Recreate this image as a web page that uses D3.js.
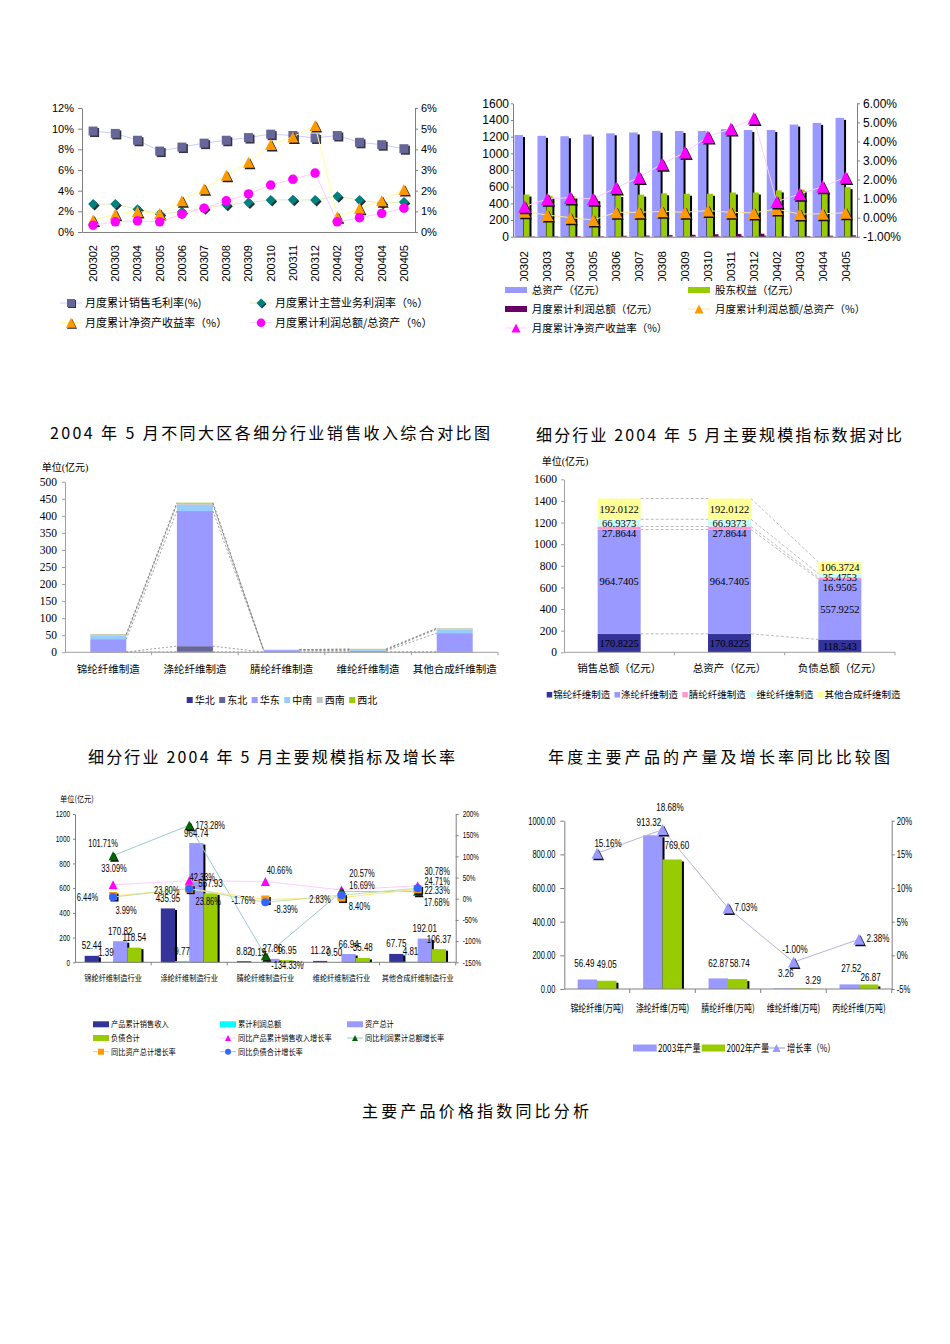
<!DOCTYPE html>
<html><head><meta charset="utf-8">
<script src="https://cdn.jsdelivr.net/npm/d3@7"></script>
<style>
body{margin:0;background:#fff}
svg{display:block}
</style></head><body>
<svg id="c" width="950" height="1344"></svg>
<script>
// ================= DATA =================
const months = ["200302","200303","200304","200305","200306","200307","200308","200309","200310","200311","200312","200402","200403","200404","200405"];
// chart 1
const grossMarginRate   = [9.77,9.54,8.88,7.83,8.22,8.60,8.88,9.14,9.47,9.34,9.10,9.34,8.68,8.45,8.06];
const mainBizProfitRate = [2.70,2.70,2.20,1.75,1.95,2.30,2.63,2.86,3.09,3.12,3.09,3.45,3.09,2.80,2.90];
const roeRate           = [0.58,0.86,0.99,0.90,1.51,2.09,2.75,3.37,4.23,4.60,5.15,0.74,1.15,1.51,2.06];
const profitAssetRatio  = [0.33,0.49,0.54,0.49,0.86,1.15,1.51,1.84,2.27,2.55,2.85,0.49,0.69,0.90,1.15];
const c1LeftTicks  = [0,2,4,6,8,10,12];
const c1RightTicks = [0,1,2,3,4,5,6];
const c1Legend = ["月度累计销售毛利率(%)","月度累计主营业务利润率（%）","月度累计净资产收益率（%）","月度累计利润总额/总资产（%）"];
// chart 2
const totalAssets       = [1220,1210,1205,1225,1240,1250,1270,1268,1268,1290,1280,1280,1345,1365,1425];
const shareholderEquity = [505,490,485,450,500,505,520,515,515,530,530,555,565,545,595];
const cumProfit         = [4,6,7,6,11,14,19,23,29,33,36,6,9,12,16];
const profitAssetPct    = [0.31,0.14,0.00,-0.12,0.28,0.28,0.33,0.28,0.37,0.28,0.25,0.45,0.19,0.20,0.26];
const roePct            = [0.58,0.98,1.05,0.98,1.57,2.12,2.82,3.43,4.25,4.67,5.21,0.84,1.24,1.63,2.12];
const c2LeftTicks  = [0,200,400,600,800,1000,1200,1400,1600];
const c2RightTicks = [-1,0,1,2,3,4,5,6];
const c2Legend = ["总资产（亿元）","股东权益（亿元）","月度累计利润总额（亿元）","月度累计利润总额/总资产（%）","月度累计净资产收益率（%）"];
// chart 3
const c3Industries = ["锦纶纤维制造","涤纶纤维制造","腈纶纤维制造","维纶纤维制造","其他合成纤维制造"];
const c3Regions = ["华北","东北","华东","中南","西南","西北"];
const c3Huabei   = [0.6,1.5,0.4,0.3,0.6];
const c3Dongbei  = [0.5,16.5,0.4,0.3,0.6];
const c3Huadong  = [37.5,396,5.5,4,55];
const c3Zhongnan = [11,18.5,1,2.5,11];
const c3Xinan    = [3.5,5,0.4,1,3];
const c3Xibei    = [0.4,0.8,0.2,2,0.3];
const c3Ticks = [0,50,100,150,200,250,300,350,400,450,500];
// chart 4
const c4Metrics = ["销售总额（亿元）","总资产（亿元）","负债总额（亿元）"];
const c4Industries = ["锦纶纤维制造","涤纶纤维制造","腈纶纤维制造","维纶纤维制造","其他合成纤维制造"];
const c4Jinlun  = [170.8225,170.8225,118.543];
const c4Dilun   = [964.7405,964.7405,557.9252];
const c4Jinglun = [27.8644,27.8644,16.9505];
const c4Weilun  = [66.9373,66.9373,35.4753];
const c4Other   = [192.0122,192.0122,106.3724];
const c4Ticks = [0,200,400,600,800,1000,1200,1400,1600];
// chart 5
const c5Industries = ["锦纶纤维制造行业","涤纶纤维制造行业","腈纶纤维制造行业","维纶纤维制造行业","其他合成纤维制造行业"];
const c5Sales  = [52.44,435.95,8.82,11.23,67.75];
const c5Profit = [1.39,9.77,0.19,0.50,4.81];
const c5Assets = [170.82,964.74,27.86,66.94,192.01];
const c5Debt   = [118.54,557.93,16.95,35.48,106.37];
const c5SalesGrowth  = [33.09,42.33,40.66,20.57,30.78];
const c5ProfitGrowth = [101.71,173.28,-134.33,16.69,17.68];
const c5AssetGrowth  = [6.44,23.80,-1.76,2.83,22.33];
const c5DebtGrowth   = [3.99,23.86,-8.39,8.40,24.71];
const c5LeftTicks  = [0,200,400,600,800,1000,1200];
const c5RightTicks = [-150,-100,-50,0,50,100,150,200];
const c5Legend = ["产品累计销售收入","累计利润总额","资产总计","负债合计","同比产品累计销售收入增长率","同比利润累计总额增长率","同比资产总计增长率","同比负债合计增长率"];
// chart 6
const c6Products = ["锦纶纤维(万吨)","涤纶纤维(万吨)","腈纶纤维(万吨)","维纶纤维(万吨)","丙纶纤维(万吨)"];
const c6Output2003 = [56.49,913.32,62.87,3.26,27.52];
const c6Output2002 = [49.05,769.60,58.74,3.29,26.87];
const c6Growth     = [15.16,18.68,7.03,-1.00,2.38];
const c6LeftTicks  = [0,200,400,600,800,1000];
const c6RightTicks = [-5,0,5,10,15,20];
const c6Legend = ["2003年产量","2002年产量","增长率（%）"];

// ================= LAYOUT (label nudges, not data) =================
const c5SalesLblOff  = [[1,-16],[13,-3],[14,-11.5],[20.5,-16.7],[19.5,-14.7]];
const c5ProfitLblOff = [[-10,-12.6],[21,0],[22,10],[20.5,-6.6],[19,11.5]];
const c5AssetLblOff  = [[-25.6,1],[-22.5,1.4],[-22,0.6],[-21.5,1.5],[19.5,1]];
const c5DebtLblOff   = [[13,13.7],[19,13],[20.5,7.7],[18,11.6],[19.5,-6.5]];
const c6Lbl03Off = [[-3,-16.5],[-4,-13],[0,-15.7],[2,-15.8],[2,-16]];
const c6Lbl02Off = [[0,-17],[4.6,-14.5],[2,-16.4],[10,-8.5],[2,-8]];
const c6GrowthLblOff = [[11,-10],[7.5,-23],[18,-1],[1.5,-13],[19,-1]];

// ================= HELPERS =================
const SANS = "'Liberation Sans','Noto Sans CJK SC',sans-serif";
const SERIF = "'Liberation Serif','Noto Sans CJK SC',serif";
const CJK = "'Noto Sans CJK SC',sans-serif";
const svg = d3.select("#c");
const f2 = d => Number(d).toFixed(2);

function narrow(sel, f) {
  sel.each(function () {
    const L = this.getComputedTextLength();
    if (L > 0) d3.select(this).attr("textLength", L * f).attr("lengthAdjust", "spacingAndGlyphs");
  });
}
function styleAxis(sel, font, size, color) {
  sel.attr("font-family", font).attr("font-size", size);
  sel.select(".domain").attr("stroke", color || "#808080");
  sel.selectAll(".tick line").attr("stroke", color || "#808080");
  sel.selectAll(".tick text").attr("fill", "#000");
}
function markerPath(type, s) {
  const h = s / 2;
  if (type === "square") return `M${-h},${-h}H${h}V${h}H${-h}Z`;
  if (type === "diamond") return `M0,${-h}L${h},0L0,${h}L${-h},0Z`;
  if (type === "triangle") return `M0,${-h}L${h},${h}L${-h},${h}Z`;
  return d3.symbol(d3.symbolCircle, Math.PI * h * h)();
}
function drawMarkers(g, vals, xf, yf, type, size, fill, shadow) {
  if (shadow) {
    g.append("g").selectAll("path").data(vals).join("path")
      .attr("d", markerPath(type, size))
      .attr("transform", (d, i) => `translate(${xf(i) + 1.5},${yf(d) + 1.5})`)
      .attr("fill", shadow);
  }
  g.append("g").selectAll("path").data(vals).join("path")
    .attr("d", markerPath(type, size))
    .attr("transform", (d, i) => `translate(${xf(i)},${yf(d)})`)
    .attr("fill", fill);
}
function drawLine(g, vals, xf, yf, color, w) {
  g.append("path").datum(vals)
    .attr("d", d3.line().x((d, i) => xf(i)).y(d => yf(d)))
    .attr("fill", "none").attr("stroke", color).attr("stroke-width", w || 1);
}
function title(txt, x0, x1, yb, size) {
  svg.append("text").attr("x", x0).attr("y", yb)
    .attr("textLength", x1 - x0).attr("lengthAdjust", "spacing")
    .attr("font-family", CJK).attr("font-size", size || 16).attr("fill", "#000")
    .text(txt);
}
function legendMarkerLine(g, x, y, w, color, type, size, fill, shadow) {
  g.append("line").attr("x1", x).attr("x2", x + w).attr("y1", y).attr("y2", y).attr("stroke", color).attr("stroke-width", 1);
  if (shadow) g.append("path").attr("d", markerPath(type, size)).attr("transform", `translate(${x + w / 2 + 1},${y + 1})`).attr("fill", shadow);
  g.append("path").attr("d", markerPath(type, size)).attr("transform", `translate(${x + w / 2},${y})`).attr("fill", fill);
}
function legText(g, x, y, txt, size, font) {
  return g.append("text").attr("x", x).attr("y", y).attr("dy", "0.35em")
    .attr("font-family", font || CJK).attr("font-size", size).attr("fill", "#000").text(txt);
}

// ================= CHART 1 =================
{
  const X0 = 82, X1 = 415, YT = 108, YB = 232;
  const g = svg.append("g");
  const x = d3.scaleBand().domain(months).range([X0, X1]);
  const cx = i => x(months[i]) + x.bandwidth() / 2;
  const yL = d3.scaleLinear().domain([0, 12]).range([YB, YT]);
  const yR = d3.scaleLinear().domain([0, 6]).range([YB, YT]);
  g.append("g").attr("transform", `translate(${X0},0)`)
    .call(d3.axisLeft(yL).tickValues(c1LeftTicks).tickFormat(d => d + "%").tickSize(4).tickPadding(4).tickSizeOuter(0))
    .call(styleAxis, SANS, 11);
  g.append("g").attr("transform", `translate(${X1},0)`)
    .call(d3.axisRight(yR).tickValues(c1RightTicks).tickFormat(d => d + "%").tickSize(3).tickPadding(3).tickSizeOuter(0))
    .call(styleAxis, SANS, 11);
  g.append("g").attr("transform", `translate(0,${YB})`)
    .call(d3.axisBottom(x).tickSize(0).tickFormat("")).call(styleAxis, SANS, 11);
  g.append("g").selectAll("text").data(months).join("text")
    .attr("transform", (d, i) => `translate(${cx(i)},245) rotate(-90)`)
    .attr("text-anchor", "end").attr("dy", "0.35em")
    .attr("font-family", SANS).attr("font-size", 11).text(d => d);

  const ser = [
    { v: grossMarginRate, y: yL, t: "square", s: 9, f: "#666699", l: "#ccccff", sh: "#333344" },
    { v: mainBizProfitRate, y: yL, t: "diamond", s: 10, f: "#008080", l: "#ddeebb", sh: "#203030" },
    { v: roeRate, y: yR, t: "triangle", s: 11, f: "#FF9900", l: "#ffff99", sh: "#222" },
    { v: profitAssetRatio, y: yR, t: "circle", s: 9.5, f: "#FF00FF", l: "#ffccff", sh: null }
  ];
  ser.forEach(s => { drawLine(g, s.v, cx, s.y, s.l, 1); drawMarkers(g, s.v, cx, s.y, s.t, s.s, s.f, s.sh); });

  const leg = svg.append("g");
  const pos = [[60, 303], [250, 303], [60, 322.7], [250, 322.7]];
  ser.forEach((s, i) => {
    legendMarkerLine(leg, pos[i][0], pos[i][1], 22, s.l, s.t, s.s - 1, s.f, s.sh);
    legText(leg, pos[i][0] + 25, pos[i][1], c1Legend[i], 11);
  });
}

// ================= CHART 2 =================
{
  const X0 = 513, X1 = 857, YT = 103.3, YB = 236.7;
  const g = svg.append("g");
  const x = d3.scaleBand().domain(months).range([X0, X1]);
  const bs = i => x(months[i]);
  const cx = i => x(months[i]) + x.bandwidth() / 2;
  const yL = d3.scaleLinear().domain([0, 1600]).range([YB, YT]);
  const yR = d3.scaleLinear().domain([-1, 6]).range([YB, YT]);
  g.append("g").attr("transform", `translate(${X0},0)`)
    .call(d3.axisLeft(yL).tickValues(c2LeftTicks).tickFormat(d => String(d)).tickSize(2).tickPadding(2).tickSizeOuter(0))
    .call(styleAxis, SANS, 12);
  g.append("g").attr("transform", `translate(${X1},0)`)
    .call(d3.axisRight(yR).tickValues(c2RightTicks).tickFormat(d => f2(d) + "%").tickSize(3).tickPadding(3).tickSizeOuter(0))
    .call(styleAxis, SANS, 12);

  const bars = [
    { v: totalAssets, off: 1.5, w: 8.5, f: "#9999FF" },
    { v: shareholderEquity, off: 10.5, w: 6, f: "#99CC00" },
    { v: cumProfit, off: 17, w: 5, f: "#660066" }
  ];
  bars.forEach(b => {
    g.append("g").selectAll("rect").data(b.v).join("rect")
      .attr("x", (d, i) => bs(i) + b.off + 2).attr("y", d => yL(d) + 2)
      .attr("width", b.w).attr("height", d => Math.max(0, YB - yL(d) - 2)).attr("fill", "#000");
    g.append("g").selectAll("rect").data(b.v).join("rect")
      .attr("x", (d, i) => bs(i) + b.off).attr("y", d => yL(d))
      .attr("width", b.w).attr("height", d => YB - yL(d)).attr("fill", b.f);
  });
  g.append("g").attr("transform", `translate(0,${YB})`)
    .call(d3.axisBottom(x).tickSize(0).tickFormat("")).call(styleAxis, SANS, 12);

  drawLine(g, profitAssetPct, cx, yR, "#ffe6a0", 1);
  drawMarkers(g, profitAssetPct, cx, yR, "triangle", 12, "#FF9900", "#111");
  drawLine(g, roePct, cx, yR, "#ffccff", 1);
  drawMarkers(g, roePct, cx, yR, "triangle", 12.5, "#FF00FF", "#111");

  const clip = svg.append("clipPath").attr("id", "c2clip");
  clip.append("rect").attr("x", 500).attr("y", 244).attr("width", 380).attr("height", 37);
  g.append("g").attr("clip-path", "url(#c2clip)").selectAll("text").data(months).join("text")
    .attr("transform", (d, i) => `translate(${cx(i)},251) rotate(-90)`)
    .attr("text-anchor", "end").attr("dy", "0.35em")
    .attr("font-family", SANS).attr("font-size", 11.5).text(d => d);

  const leg = svg.append("g");
  leg.append("rect").attr("x", 505).attr("y", 287).attr("width", 22).attr("height", 6).attr("fill", "#9999FF");
  legText(leg, 531.7, 290, c2Legend[0], 10.5);
  leg.append("rect").attr("x", 688).attr("y", 287).attr("width", 22).attr("height", 6).attr("fill", "#99CC00");
  legText(leg, 715, 290, c2Legend[1], 10.5);
  leg.append("rect").attr("x", 505).attr("y", 306).attr("width", 22).attr("height", 6).attr("fill", "#660066");
  legText(leg, 531.7, 309, c2Legend[2], 10.5);
  legendMarkerLine(leg, 688, 309, 22, "#ffe6a0", "triangle", 9, "#FF9900", null);
  legText(leg, 715, 309, c2Legend[3], 10.5);
  legendMarkerLine(leg, 505, 328, 22, "#ffccff", "triangle", 9, "#FF00FF", null);
  legText(leg, 531.7, 328, c2Legend[4], 10.5);
}

// ================= CHART 3 =================
title("2004 年 5 月不同大区各细分行业销售收入综合对比图", 50, 490, 439, 16);
{
  const X0 = 65, X1 = 498, YT = 481.7, YB = 652.3;
  const g = svg.append("g");
  const x = d3.scaleBand().domain(c3Industries).range([X0, X1]);
  const y = d3.scaleLinear().domain([0, 500]).range([YB, YT]);
  const cols = ["#333399", "#666699", "#9999FF", "#99CCFF", "#C0C0C0", "#99CC00"];
  const src = [c3Huabei, c3Dongbei, c3Huadong, c3Zhongnan, c3Xinan, c3Xibei];
  const rows = c3Industries.map((d, i) => { const r = {}; c3Regions.forEach((k, j) => r[k] = src[j][i]); return r; });
  const st = d3.stack().keys(c3Regions)(rows);
  const bw = 36;
  const bx = i => x(c3Industries[i]) + (x.bandwidth() - bw) / 2;

  g.append("text").attr("x", 41.7).attr("y", 467).attr("dy", "0.35em").attr("font-family", SERIF).attr("font-size", 10).text("单位(亿元)");
  g.append("g").attr("transform", `translate(${X0},0)`)
    .call(d3.axisLeft(y).tickValues(c3Ticks).tickFormat(d => String(d)).tickSize(3).tickPadding(5).tickSizeOuter(0))
    .call(styleAxis, SERIF, 11.5, "#a0a0a0");

  st.forEach((layer, k) => {
    g.append("g").selectAll("rect").data(layer).join("rect")
      .attr("x", (d, i) => bx(i)).attr("y", d => y(d[1]))
      .attr("width", bw).attr("height", d => Math.max(0, y(d[0]) - y(d[1])))
      .attr("fill", cols[k]);
  });
  st.forEach(layer => {
    for (let i = 0; i < c3Industries.length - 1; i++) {
      g.append("line").attr("x1", bx(i) + bw).attr("y1", y(layer[i][1]))
        .attr("x2", bx(i + 1)).attr("y2", y(layer[i + 1][1]))
        .attr("stroke", "#777").attr("stroke-width", 0.7).attr("stroke-dasharray", "2,2");
    }
  });
  g.append("line").attr("x1", X0).attr("x2", X1).attr("y1", YB).attr("y2", YB).attr("stroke", "#a0a0a0");
  g.append("g").selectAll("line").data(c3Industries).join("line")
    .attr("x1", (d, i) => X0 + x.step() * (i + 1)).attr("x2", (d, i) => X0 + x.step() * (i + 1))
    .attr("y1", YB).attr("y2", YB + 3).attr("stroke", "#a0a0a0");
  g.append("g").selectAll("text").data(c3Industries).join("text")
    .attr("x", d => x(d) + x.bandwidth() / 2).attr("y", 669).attr("dy", "0.35em")
    .attr("text-anchor", "middle").attr("font-family", SERIF).attr("font-size", 10.5).text(d => d);
  c3Regions.forEach((r, i) => {
    const lx = 186.7 + i * 32.5;
    g.append("rect").attr("x", lx).attr("y", 697).attr("width", 6).attr("height", 6).attr("fill", cols[i]);
    legText(g, lx + 8, 700.5, r, 10, SERIF);
  });
}

// ================= CHART 4 =================
title("细分行业 2004 年 5 月主要规模指标数据对比", 536, 902, 441, 16);
{
  const X0 = 564, X1 = 895, YT = 479.3, YB = 652.3;
  const g = svg.append("g");
  const x = d3.scaleBand().domain(c4Metrics).range([X0, X1]);
  const y = d3.scaleLinear().domain([0, 1600]).range([YB, YT]);
  const cols = ["#333399", "#9999FF", "#FF99CC", "#CCFFFF", "#FFFF99"];
  const src = [c4Jinlun, c4Dilun, c4Jinglun, c4Weilun, c4Other];
  const rows = c4Metrics.map((m, i) => { const r = {}; c4Industries.forEach((k, j) => r[k] = src[j][i]); return r; });
  const st = d3.stack().keys(c4Industries)(rows);
  const bw = 43;
  const bx = i => x(c4Metrics[i]) + (x.bandwidth() - bw) / 2;

  g.append("text").attr("x", 541.7).attr("y", 461.7).attr("dy", "0.35em").attr("font-family", SERIF).attr("font-size", 10).text("单位(亿元)");
  g.append("g").attr("transform", `translate(${X0},0)`)
    .call(d3.axisLeft(y).tickValues(c4Ticks).tickFormat(d => String(d)).tickSize(3).tickPadding(4).tickSizeOuter(0))
    .call(styleAxis, SERIF, 11.5, "#a0a0a0");
  st.forEach((layer, k) => {
    g.append("g").selectAll("rect").data(layer).join("rect")
      .attr("x", (d, i) => bx(i)).attr("y", d => y(d[1]))
      .attr("width", bw).attr("height", d => y(d[0]) - y(d[1]))
      .attr("fill", cols[k]);
  });
  st.forEach(layer => {
    for (let i = 0; i < c4Metrics.length - 1; i++) {
      g.append("line").attr("x1", bx(i) + bw).attr("y1", y(layer[i][1]))
        .attr("x2", bx(i + 1)).attr("y2", y(layer[i + 1][1]))
        .attr("stroke", "#aaa").attr("stroke-width", 0.8).attr("stroke-dasharray", "3,2");
    }
  });
  c4Metrics.forEach((m, i) => {
    let prev = -1e9;
    for (let k = st.length - 1; k >= 0; k--) {
      const d = st[k][i];
      let ly = y((d[0] + d[1]) / 2);
      if (ly - prev < 10) ly = prev + 10;
      prev = ly;
      g.append("text").attr("x", bx(i) + bw / 2).attr("y", ly).attr("dy", "0.35em")
        .attr("text-anchor", "middle").attr("font-family", SERIF).attr("font-size", 10.5)
        .attr("fill", "#000").text(String(d.data[c4Industries[k]]));
    }
  });
  g.append("line").attr("x1", X0).attr("x2", X1).attr("y1", YB).attr("y2", YB).attr("stroke", "#a0a0a0");
  g.append("g").selectAll("line").data(c4Metrics).join("line")
    .attr("x1", (d, i) => X0 + x.step() * (i + 1)).attr("x2", (d, i) => X0 + x.step() * (i + 1))
    .attr("y1", YB).attr("y2", YB + 3).attr("stroke", "#a0a0a0");
  g.append("g").selectAll("text").data(c4Metrics).join("text")
    .attr("x", d => x(d) + x.bandwidth() / 2).attr("y", 668.3).attr("dy", "0.35em")
    .attr("text-anchor", "middle").attr("font-family", SERIF).attr("font-size", 10.5).text(d => d);
  c4Industries.forEach((r, i) => {
    const lx = 546.7 + i * 67.8;
    g.append("rect").attr("x", lx).attr("y", 692).attr("width", 5.5).attr("height", 5.5).attr("fill", cols[i]);
    legText(g, lx + 6.5, 695, r, 9.5, SERIF);
  });
}

// ================= CHART 5 =================
title("细分行业 2004 年 5 月主要规模指标及增长率", 88, 455, 763, 16);
{
  const X0 = 75, X1 = 455.7, YT = 814, YB = 962.3;
  const g = svg.append("g");
  const x = d3.scaleBand().domain(c5Industries).range([X0, X1]);
  const cx = i => x(c5Industries[i]) + x.bandwidth() / 2;
  const yL = d3.scaleLinear().domain([0, 1200]).range([YB, YT]);
  const yR = d3.scaleLinear().domain([-150, 200]).range([YB, YT]);
  g.append("text").attr("x", 60).attr("y", 799).attr("dy", "0.35em").attr("font-family", CJK).attr("font-size", 8.5).text("单位(亿元)").call(narrow, 0.85);
  g.append("g").attr("transform", `translate(${X0},0)`)
    .call(d3.axisLeft(yL).tickValues(c5LeftTicks).tickFormat(d => String(d)).tickSize(2).tickPadding(3).tickSizeOuter(0))
    .call(styleAxis, SANS, 8.5).call(s => s.selectAll(".tick text").call(narrow, 0.75));
  g.append("g").attr("transform", `translate(${X1},0)`)
    .call(d3.axisRight(yR).tickValues(c5RightTicks).tickFormat(d => d + "%").tickSize(3).tickPadding(4).tickSizeOuter(0))
    .call(styleAxis, SANS, 8.5).call(s => s.selectAll(".tick text").call(narrow, 0.75));

  const bw = 14.2;
  const gs = i => x(c5Industries[i]) + (x.bandwidth() - 4 * bw) / 2;
  const bars = [
    { v: c5Sales, f: "#333399" }, { v: c5Profit, f: "#00FFFF" },
    { v: c5Assets, f: "#9999FF" }, { v: c5Debt, f: "#99CC00" }
  ];
  bars.forEach((b, j) => {
    g.append("g").selectAll("rect").data(b.v).join("rect")
      .attr("x", (d, i) => gs(i) + j * bw + 2).attr("y", d => yL(d) + 1.5)
      .attr("width", bw).attr("height", d => Math.max(0, YB - yL(d) - 1.5)).attr("fill", "#000");
    g.append("g").selectAll("rect").data(b.v).join("rect")
      .attr("x", (d, i) => gs(i) + j * bw).attr("y", d => yL(d))
      .attr("width", bw).attr("height", d => YB - yL(d)).attr("fill", b.f);
  });
  g.append("line").attr("x1", X0).attr("x2", X1).attr("y1", YB).attr("y2", YB).attr("stroke", "#808080");
  g.append("g").selectAll("line").data(c5Industries).join("line")
    .attr("x1", (d, i) => X0 + x.step() * (i + 1)).attr("x2", (d, i) => X0 + x.step() * (i + 1))
    .attr("y1", YB).attr("y2", YB + 3).attr("stroke", "#808080");
  g.append("g").selectAll("text").data(c5Industries).join("text")
    .attr("x", d => x(d) + x.bandwidth() / 2).attr("y", 978).attr("dy", "0.35em")
    .attr("text-anchor", "middle").attr("font-family", CJK).attr("font-size", 8).text(d => d).call(narrow, 0.9);

  const lines = [
    { v: c5SalesGrowth, t: "triangle", s: 9, f: "#FF00FF", l: "#ffccff", ll: "#ffccff", sh: null, off: c5SalesLblOff },
    { v: c5ProfitGrowth, t: "triangle", s: 9, f: "#006600", l: "#99cccc", ll: "#99cccc", sh: "#111", off: c5ProfitLblOff },
    { v: c5AssetGrowth, t: "square", s: 8, f: "#FF9900", l: "#ffe680", ll: "#ffcc66", sh: "#111", off: c5AssetLblOff },
    { v: c5DebtGrowth, t: "circle", s: 8, f: "#3366FF", l: "#bde0a8", ll: "#99ccff", sh: null, off: c5DebtLblOff }
  ];
  lines.forEach(s => { drawLine(g, s.v, cx, yR, s.l, 1); drawMarkers(g, s.v, cx, yR, s.t, s.s, s.f, s.sh); });

  bars.forEach((b, j) => {
    g.append("g").selectAll("text").data(b.v).join("text")
      .attr("x", (d, i) => gs(i) + j * bw + bw / 2).attr("y", d => yL(d) - 10).attr("dy", "0.35em")
      .attr("text-anchor", "middle").attr("font-family", SANS).attr("font-size", 10).text(d => f2(d))
      .call(narrow, 0.8);
  });
  lines.forEach(s => {
    g.append("g").selectAll("text").data(s.v).join("text")
      .attr("x", (d, i) => cx(i) + s.off[i][0]).attr("y", (d, i) => yR(d) + s.off[i][1]).attr("dy", "0.35em")
      .attr("text-anchor", "middle").attr("font-family", SANS).attr("font-size", 10).text(d => f2(d) + "%")
      .call(narrow, 0.75);
  });

  const leg = svg.append("g");
  const cols = [93, 220, 347], rws = [1024.3, 1038, 1051.7];
  const items = [
    { k: "rect", f: "#333399" }, { k: "rect", f: "#00FFFF" }, { k: "rect", f: "#9999FF" },
    { k: "rect", f: "#99CC00" }, { k: "mk", s: lines[0] }, { k: "mk", s: lines[1] },
    { k: "mk", s: lines[2] }, { k: "mk", s: lines[3] }
  ];
  items.forEach((it, i) => {
    const lx = cols[i % 3], ly = rws[Math.floor(i / 3)];
    if (it.k === "rect") leg.append("rect").attr("x", lx).attr("y", ly - 3).attr("width", 16).attr("height", 6).attr("fill", it.f);
    else legendMarkerLine(leg, lx, ly, 16, it.s.ll, it.s.t, 6, it.s.f, null);
    legText(leg, lx + 18, ly, c5Legend[i], 8).call(narrow, 0.9);
  });
}

// ================= CHART 6 =================
title("年度主要产品的产量及增长率同比比较图", 548, 890, 763, 16);
{
  const X0 = 564.3, X1 = 891.7, YT = 820.7, YB = 989;
  const g = svg.append("g");
  const x = d3.scaleBand().domain(c6Products).range([X0, X1]);
  const cx = i => x(c6Products[i]) + x.bandwidth() / 2;
  const yL = d3.scaleLinear().domain([0, 1000]).range([YB, YT]);
  const yR = d3.scaleLinear().domain([-5, 20]).range([YB, YT]);
  g.append("g").attr("transform", `translate(${X0},0)`)
    .call(d3.axisLeft(yL).tickValues(c6LeftTicks).tickFormat(f2).tickSize(4).tickPadding(5).tickSizeOuter(0))
    .call(styleAxis, SANS, 11).call(s => s.selectAll(".tick text").call(narrow, 0.68));
  g.append("g").attr("transform", `translate(${X1},0)`)
    .call(d3.axisRight(yR).tickValues(c6RightTicks).tickFormat(d => d + "%").tickSize(3).tickPadding(2).tickSizeOuter(0))
    .call(styleAxis, SANS, 11).call(s => s.selectAll(".tick text").call(narrow, 0.7));
  const bw = 19.4;
  const gs = i => x(c6Products[i]) + (x.bandwidth() - 2 * bw) / 2;
  const bars = [{ v: c6Output2003, f: "#9999FF", off: c6Lbl03Off }, { v: c6Output2002, f: "#99CC00", off: c6Lbl02Off }];
  bars.forEach((b, j) => {
    g.append("g").selectAll("rect").data(b.v).join("rect")
      .attr("x", (d, i) => gs(i) + j * bw + 2).attr("y", d => yL(d) + 2)
      .attr("width", bw).attr("height", d => Math.max(0, YB - yL(d) - 2)).attr("fill", "#000");
    g.append("g").selectAll("rect").data(b.v).join("rect")
      .attr("x", (d, i) => gs(i) + j * bw).attr("y", d => yL(d))
      .attr("width", bw).attr("height", d => YB - yL(d)).attr("fill", b.f);
  });
  g.append("line").attr("x1", X0).attr("x2", X1).attr("y1", YB).attr("y2", YB).attr("stroke", "#808080");
  g.append("g").selectAll("line").data(c6Products).join("line")
    .attr("x1", (d, i) => X0 + x.step() * (i + 1)).attr("x2", (d, i) => X0 + x.step() * (i + 1))
    .attr("y1", YB).attr("y2", YB + 4).attr("stroke", "#808080");
  g.append("g").selectAll("text").data(c6Products).join("text")
    .attr("x", d => x(d) + x.bandwidth() / 2).attr("y", 1008.3).attr("dy", "0.35em")
    .attr("text-anchor", "middle").attr("font-family", CJK).attr("font-size", 10.5).text(d => d).call(narrow, 0.76);

  drawLine(g, c6Growth, cx, yR, "#b4b4dc", 1);
  drawMarkers(g, c6Growth, cx, yR, "triangle", 11, "#9999FF", "#111");

  bars.forEach((b, j) => {
    g.append("g").selectAll("text").data(b.v).join("text")
      .attr("x", (d, i) => gs(i) + j * bw + bw / 2 + b.off[i][0]).attr("y", (d, i) => yL(d) + b.off[i][1]).attr("dy", "0.35em")
      .attr("text-anchor", "middle").attr("font-family", SANS).attr("font-size", 11.5).text(d => f2(d))
      .call(narrow, 0.7);
  });
  g.append("g").selectAll("text").data(c6Growth).join("text")
    .attr("x", (d, i) => cx(i) + c6GrowthLblOff[i][0]).attr("y", (d, i) => yR(d) + c6GrowthLblOff[i][1]).attr("dy", "0.35em")
    .attr("text-anchor", "middle").attr("font-family", SANS).attr("font-size", 11.5).text(d => f2(d) + "%")
    .call(narrow, 0.7);

  const leg = svg.append("g");
  leg.append("rect").attr("x", 633).attr("y", 1044.5).attr("width", 23.7).attr("height", 7).attr("fill", "#9999FF");
  legText(leg, 658, 1048, c6Legend[0], 10.5).call(narrow, 0.78);
  leg.append("rect").attr("x", 701.7).attr("y", 1044.5).attr("width", 23.3).attr("height", 7).attr("fill", "#99CC00");
  legText(leg, 726.5, 1048, c6Legend[1], 10.5).call(narrow, 0.78);
  legendMarkerLine(leg, 768, 1048, 17, "#9999cc", "triangle", 8, "#9999FF", null);
  legText(leg, 787, 1048, c6Legend[2], 10.5).call(narrow, 0.78);
}

// ================= FINAL TITLE =================
title("主要产品价格指数同比分析", 362, 589, 1117, 16);
</script></body></html>
